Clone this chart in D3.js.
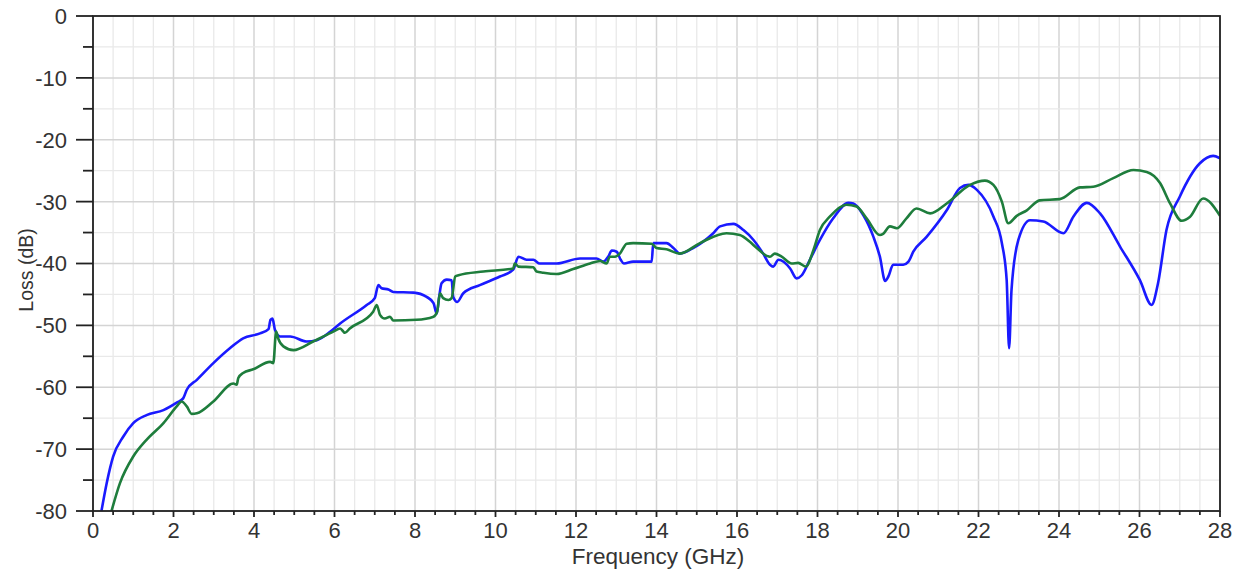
<!DOCTYPE html>
<html>
<head>
<meta charset="utf-8">
<script src="https://cdn.jsdelivr.net/npm/d3@7"></script>
<style>
  body { margin: 0; background: #fff; }
  text { font-family: "Liberation Sans", Arial, sans-serif; fill: #333; }
</style>
</head>
<body>
<svg id="chart" width="1241" height="570"></svg>
<script>
// values (frequency in GHz, loss in dB)
const freqBlue = [0.21,0.34,0.5,0.75,1.0,1.33,1.75,2.08,2.24,2.33,2.58,2.99,3.4,3.73,4.15,4.36,4.41,4.46,4.52,4.65,4.9,5.31,5.56,5.9,6.14,6.8,7.0,7.09,7.17,7.34,7.46,7.96,8.29,8.46,8.54,8.6,8.66,8.79,8.91,8.95,9.05,9.2,9.61,10.11,10.44,10.57,10.77,10.94,11.1,11.52,12.1,12.51,12.68,12.8,12.89,13.01,13.11,13.19,13.42,13.88,13.92,14.25,14.42,14.58,14.91,15.41,15.58,15.91,16.16,16.41,16.65,16.82,16.9,17.03,17.32,17.48,17.61,17.81,18.06,18.39,18.77,18.89,19.14,19.39,19.55,19.68,19.76,19.88,20.13,20.26,20.38,20.71,21.21,21.54,21.75,21.96,22.37,22.58,22.7,22.76,22.82,22.99,23.28,23.61,24.11,24.36,24.69,25.02,25.52,26.01,26.3,26.46,26.67,27.0,27.5,27.83,28];
const lossBlue = [-80,-75.5,-71.2,-68,-65.8,-64.5,-63.7,-62.5,-61.8,-60.4,-58.8,-56.1,-53.7,-52.1,-51.3,-50.6,-49.1,-48.9,-50.7,-51.8,-51.8,-52.6,-52.4,-51.0,-49.7,-46.7,-45.6,-43.5,-44.0,-44.2,-44.6,-44.7,-45.4,-46.4,-48.1,-45.4,-43.2,-42.6,-42.7,-45.4,-46.2,-44.8,-43.5,-42.1,-41.0,-38.9,-39.4,-39.4,-40.0,-40.0,-39.2,-39.2,-39.7,-38.9,-37.9,-38.1,-39.4,-40.0,-39.7,-39.7,-36.7,-36.7,-37.5,-38.4,-37.5,-35.1,-34.0,-33.6,-34.6,-36.2,-38.4,-40.2,-40.5,-39.4,-40.8,-42.4,-41.9,-39.4,-36.2,-32.7,-30.2,-30.3,-32.2,-35.7,-38.9,-42.8,-42.1,-40.2,-40.2,-39.7,-38.1,-35.7,-31.4,-27.8,-27.3,-28.1,-32.4,-36.7,-42.7,-53.7,-44.3,-36.2,-33.0,-33.2,-35.1,-32.4,-30.2,-31.9,-37.3,-42.7,-46.7,-43.2,-34.6,-29.2,-23.8,-22.6,-23.0];

const freqGreen = [0.46,0.67,1.0,1.33,1.75,2.08,2.2,2.33,2.45,2.58,2.99,3.49,3.57,3.61,3.73,3.98,4.4,4.48,4.55,4.6,4.73,4.98,5.47,5.97,6.14,6.26,6.38,6.96,7.05,7.13,7.25,7.38,7.46,8.04,8.46,8.55,8.62,8.7,8.83,8.91,9.0,9.08,9.7,10.44,10.48,10.57,10.94,11.02,11.19,11.52,11.93,12.35,12.6,12.76,12.84,12.97,13.09,13.26,13.42,13.88,14.0,14.25,14.58,15.08,15.74,16.07,16.32,16.49,16.82,16.94,17.11,17.36,17.52,17.71,17.9,18.06,18.31,18.72,18.97,19.22,19.55,19.63,19.8,19.97,20.21,20.46,20.8,21.21,21.79,22.16,22.37,22.58,22.74,22.95,23.2,23.52,24.02,24.52,24.85,25.35,25.85,26.18,26.51,26.76,27.05,27.25,27.58,28];
const lossGreen = [-80,-75.5,-71.2,-68.5,-65.8,-63.1,-62.3,-63.1,-64.3,-64.2,-62.3,-59.4,-59.6,-58.5,-57.7,-57.1,-55.9,-56.1,-51.0,-52.1,-53.4,-54.0,-52.6,-51.0,-50.5,-51.2,-50.5,-47.8,-46.7,-48.3,-48.9,-48.6,-49.2,-49.1,-48.6,-47.8,-44.8,-45.6,-45.9,-45.6,-42.1,-41.9,-41.3,-40.8,-40.0,-40.5,-40.6,-41.3,-41.5,-41.7,-40.9,-40.0,-39.6,-40.0,-38.9,-38.9,-38.4,-36.8,-36.7,-36.8,-37.5,-37.7,-38.4,-36.7,-35.1,-35.4,-36.5,-37.5,-38.9,-38.4,-38.9,-40.0,-39.9,-40.5,-37.8,-34.6,-32.4,-30.5,-30.8,-32.7,-35.4,-35.2,-34.0,-34.3,-32.7,-31.1,-31.9,-30.3,-27.3,-26.6,-27.3,-30.0,-33.5,-32.3,-31.4,-29.8,-29.6,-27.7,-27.6,-26.2,-24.9,-25.2,-27.0,-30.3,-33.1,-32.5,-29.5,-32.3];

const xTickLabels = [0,2,4,6,8,10,12,14,16,18,20,22,24,26,28];
const yTickLabels = [0,-10,-20,-30,-40,-50,-60,-70,-80];

const width = 1241, height = 570;
const margin = {top: 16, right: 21, bottom: 59, left: 93};

const svg = d3.select("#chart");

const x = d3.scaleLinear().domain([0, 28]).range([margin.left, width - margin.right]);
const y = d3.scaleLinear().domain([-80, 0]).range([height - margin.bottom, margin.top]);

// grid: light every 0.5 GHz / 5 dB, darker every 2 GHz / 10 dB
const grid = svg.append("g");
d3.range(0, 28.01, 0.5).forEach(function (v) {
  grid.append("line")
    .attr("x1", x(v)).attr("x2", x(v))
    .attr("y1", y(-80)).attr("y2", y(0))
    .attr("stroke", v % 2 === 0 ? "#d4d4d4" : "#e9e9e9")
    .attr("stroke-width", v % 2 === 0 ? 1.5 : 1.3);
});
d3.range(-80, 0.01, 5).forEach(function (v) {
  grid.append("line")
    .attr("x1", x(0)).attr("x2", x(28))
    .attr("y1", y(v)).attr("y2", y(v))
    .attr("stroke", v % 10 === 0 ? "#d4d4d4" : "#e9e9e9")
    .attr("stroke-width", v % 10 === 0 ? 1.5 : 1.3);
});

// curves
svg.append("clipPath").attr("id", "clip")
  .append("rect")
  .attr("x", x(0)).attr("y", y(0))
  .attr("width", x(28) - x(0)).attr("height", y(-80) - y(0));

const line = d3.line()
  .x(function (d) { return x(d[0]); })
  .y(function (d) { return y(d[1]); })
  .curve(d3.curveMonotoneX);

const series = [
  {f: freqBlue, l: lossBlue, color: "#1a1aff"},
  {f: freqGreen, l: lossGreen, color: "#1e7d3c"}
];
series.forEach(function (s) {
  svg.append("path")
    .datum(d3.zip(s.f, s.l))
    .attr("clip-path", "url(#clip)")
    .attr("fill", "none")
    .attr("stroke", s.color)
    .attr("stroke-width", 2.6)
    .attr("stroke-linejoin", "round")
    .attr("d", line);
});

// frame
svg.append("rect")
  .attr("x", x(0)).attr("y", y(0))
  .attr("width", x(28) - x(0)).attr("height", y(-80) - y(0))
  .attr("fill", "none").attr("stroke", "#222").attr("stroke-width", 1.8);

// y axis ticks
const yAxis = svg.append("g");
d3.range(-80, 0.01, 5).forEach(function (v) {
  const major = v % 10 === 0;
  yAxis.append("line")
    .attr("x1", x(0) - (major ? 17 : 10)).attr("x2", x(0))
    .attr("y1", y(v)).attr("y2", y(v))
    .attr("stroke", "#222").attr("stroke-width", 1.8);
});
yAxis.selectAll("text.tick")
  .data(yTickLabels)
  .enter().append("text")
  .attr("class", "tick")
  .attr("x", x(0) - 26)
  .attr("y", function (d) { return y(d); })
  .attr("dy", "0.36em")
  .attr("text-anchor", "end")
  .style("font-size", "22px")
  .text(function (d) { return d; });

// x axis ticks
const xAxis = svg.append("g");
d3.range(0, 28.01, 0.5).forEach(function (v) {
  const major = v % 2 === 0;
  xAxis.append("line")
    .attr("x1", x(v)).attr("x2", x(v))
    .attr("y1", y(-80)).attr("y2", y(-80) + (major ? 6 : 4))
    .attr("stroke", "#222").attr("stroke-width", 1.8);
});
xAxis.selectAll("text.tick")
  .data(xTickLabels)
  .enter().append("text")
  .attr("class", "tick")
  .attr("x", function (d) { return x(d); })
  .attr("y", y(-80) + 27)
  .attr("text-anchor", "middle")
  .style("font-size", "22px")
  .text(function (d) { return d; });

// axis titles
svg.append("text")
  .attr("x", 658)
  .attr("y", 564)
  .attr("text-anchor", "middle")
  .style("font-size", "22.5px")
  .text("Frequency (GHz)");

svg.append("text")
  .attr("transform", "translate(33," + 270 + ") rotate(-90)")
  .attr("text-anchor", "middle")
  .style("font-size", "19.5px")
  .text("Loss (dB)");
</script>
</body>
</html>
